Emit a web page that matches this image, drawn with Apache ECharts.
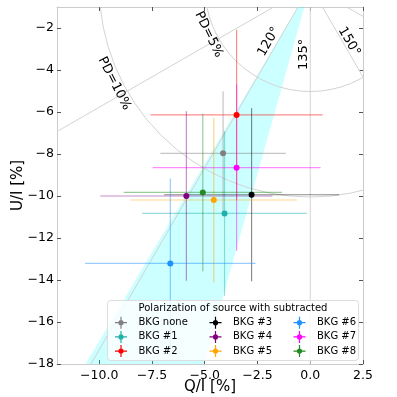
<!DOCTYPE html>
<html>
<head>
<meta charset="utf-8">
<script src="https://cdn.jsdelivr.net/npm/echarts@6.0.0/dist/echarts.min.js"></script>
<style>
  html, body { margin: 0; padding: 0; background: #fff; }
  #chart { width: 397px; height: 397px; }
</style>
</head>
<body>
<div id="chart"></div>
<script>
// Polarization of source with each background subtracted (Q/I, U/I in %)
var bkgNames = ['BKG none', 'BKG #1', 'BKG #2', 'BKG #3', 'BKG #4', 'BKG #5', 'BKG #6', 'BKG #7', 'BKG #8']
var bkgColors = ['grey', '#20b2aa', 'red', 'black', 'purple', 'orange', 'dodgerblue', 'magenta', 'forestgreen']
var qVals = [-4.13, -4.06, -3.49, -2.78, -5.87, -4.57, -6.63, -3.49, -5.09]
var uVals = [-7.97, -10.83, -6.14, -9.94, -10.00, -10.19, -13.21, -8.65, -9.83]
var qErr = [2.97, 3.90, 4.08, 4.15, 4.08, 3.94, 4.04, 3.98, 3.75]
var uErr = [2.96, 3.92, 4.06, 4.12, 4.03, 3.92, 4.04, 3.96, 3.75]

// polar guide grid
var pdRings = [5, 10]                 // PD circles, %
var angleLines = [105, 120, 135, 150, 165] // polarization angle, deg
var wedgePsi = [119.7, 127.2]         // shaded angle range, deg

// axis ticks
var xTicks = [-10, -7.5, -5, -2.5, 0, 2.5]
var yTicks = [-18, -16, -14, -12, -10, -8, -6, -4, -2]

// guide labels: text, Q, U, rotation (deg)
var guideText = ['PD=5%', 'PD=10%', '120°', '135°', '150°']
var guideQ = [-4.81, -9.28, -1.96, -0.30, 1.84]
var guideU = [-2.31, -4.64, -2.65, -3.26, -2.65]
var guideRot = [-64, -63, 60, 90, -60]

var FONT = 'DejaVu Sans'
var GRID_COLOR = '#d3d3d3'

function minus(v) {
  return String(v).replace('-', '\u2212')
}

function renderRing(params, api) {
  var c = api.coord([0, 0])
  var r = api.size([api.value(0), 0])[0]
  return {
    type: 'circle',
    shape: { cx: c[0], cy: c[1], r: r },
    style: { fill: 'none', stroke: GRID_COLOR, lineWidth: 1 }
  }
}

function renderRay(params, api) {
  var t = 2 * api.value(0) * Math.PI / 180
  var p0 = api.coord([0, 0])
  var p1 = api.coord([40 * Math.cos(t), 40 * Math.sin(t)])
  return {
    type: 'line',
    shape: { x1: p0[0], y1: p0[1], x2: p1[0], y2: p1[1] },
    style: { stroke: GRID_COLOR, lineWidth: 1 }
  }
}

function renderWedge(params, api) {
  var a = 2 * api.value(0) * Math.PI / 180
  var b = 2 * api.value(1) * Math.PI / 180
  var pts = [
    api.coord([0, 0]),
    api.coord([40 * Math.cos(a), 40 * Math.sin(a)]),
    api.coord([40 * Math.cos(b), 40 * Math.sin(b)])
  ]
  return {
    type: 'polygon',
    shape: { points: pts },
    style: { fill: 'rgba(0,255,255,0.2)', stroke: 'none' }
  }
}

function renderGuideText(params, api) {
  var i = params.dataIndex
  var p = api.coord([guideQ[i], guideU[i]])
  return {
    type: 'text',
    x: p[0],
    y: p[1],
    rotation: guideRot[i] * Math.PI / 180,
    style: {
      text: guideText[i],
      fill: '#000',
      font: '13px "' + FONT + '"',
      align: 'center',
      verticalAlign: 'middle'
    }
  }
}

function renderErr(params, api) {
  var q = api.value(0), u = api.value(1), qe = api.value(2), ue = api.value(3)
  var a = api.coord([q - qe, u]), b = api.coord([q + qe, u])
  var c = api.coord([q, u - ue]), d = api.coord([q, u + ue])
  var style = { stroke: api.visual('color'), lineWidth: 1.2, opacity: 0.45 }
  return {
    type: 'group',
    children: [
      { type: 'line', shape: { x1: a[0], y1: a[1], x2: b[0], y2: b[1] }, style: style },
      { type: 'line', shape: { x1: c[0], y1: c[1], x2: d[0], y2: d[1] }, style: style }
    ]
  }
}

var series = [
  {
    type: 'custom', name: 'wedge', silent: true, clip: true, z: 1,
    renderItem: renderWedge,
    data: [wedgePsi]
  },
  {
    type: 'custom', name: 'rings', silent: true, clip: true, z: 1,
    renderItem: renderRing,
    data: pdRings.map(function(r) { return [r, 0] })
  },
  {
    type: 'custom', name: 'rays', silent: true, clip: true, z: 1,
    renderItem: renderRay,
    data: angleLines.map(function(a) { return [a, 0] })
  },
  {
    type: 'custom', name: 'guideText', silent: true, clip: true, z: 1,
    renderItem: renderGuideText,
    data: guideQ.map(function(q, i) { return [q, guideU[i]] })
  }
]

bkgNames.forEach(function(name, i) {
  series.push({
    type: 'scatter',
    name: name,
    symbol: 'circle',
    symbolSize: 6,
    z: 3 + i * 0.01,
    itemStyle: { color: bkgColors[i], opacity: 1 },
    data: [[qVals[i], uVals[i]]]
  })
  series.push({
    type: 'custom',
    name: name,
    silent: true,
    clip: true,
    z: 2 + i * 0.01,
    itemStyle: { color: bkgColors[i] },
    renderItem: renderErr,
    encode: { x: 0, y: 1 },
    data: [[qVals[i], uVals[i], qErr[i], uErr[i]]]
  })
})

var legendIcon = 'path://M0,5.4h12v1.2h-12z M5.4,0h1.2v12h-1.2z M3.4,6a2.6,2.6 0 1,1 5.2,0a2.6,2.6 0 1,1 -5.2,0z'

function legendColumn(names, left) {
  return {
    orient: 'vertical',
    left: left,
    top: 316.7,
    padding: 0,
    itemWidth: 25,
    itemHeight: 12,
    itemGap: 2.2,
    z: 20,
    selectedMode: false,
    icon: legendIcon,
    textStyle: { fontFamily: FONT, fontSize: 10, color: '#000' },
    data: names
  }
}

var axisBase = {
  type: 'value',
  splitLine: { show: false },
  axisLine: { show: true, onZero: false, lineStyle: { color: '#cccccc', width: 1 } },
  axisTick: { show: true, inside: true, length: 4, lineStyle: { color: '#555' } }
}

var chart = echarts.init(document.getElementById('chart'), null, { renderer: 'canvas' })
chart.setOption({
  animation: false,
  backgroundColor: '#fff',
  grid: { left: 57, right: 34, top: 7, bottom: 33, containLabel: false, outerBoundsMode: 'none' },
  xAxis: [
    Object.assign({}, axisBase, {
      position: 'bottom', min: -12, max: 2.5,
      axisTick: Object.assign({}, axisBase.axisTick, { customValues: xTicks }),
      axisLabel: {
        customValues: xTicks, margin: 5,
        fontFamily: FONT, fontSize: 12.5, color: '#000',
        formatter: function(v) { return minus(v.toFixed(1)) }
      },
      name: 'Q/I [%]', nameLocation: 'middle', nameGap: 16, nameMoveOverlap: false,
      nameTextStyle: { fontFamily: FONT, fontSize: 15, color: '#000' }
    }),
    Object.assign({}, axisBase, {
      position: 'top', min: -12, max: 2.5,
      axisTick: Object.assign({}, axisBase.axisTick, { customValues: xTicks }),
      axisLabel: { show: false }
    })
  ],
  yAxis: [
    Object.assign({}, axisBase, {
      position: 'left', min: -18, max: -1,
      axisTick: Object.assign({}, axisBase.axisTick, { customValues: yTicks }),
      axisLabel: {
        customValues: yTicks, margin: 3,
        fontFamily: FONT, fontSize: 12.5, color: '#000',
        formatter: function(v) { return minus(v) }
      },
      name: 'U/I [%]', nameLocation: 'middle', nameGap: 31, nameMoveOverlap: false,
      nameTextStyle: { fontFamily: FONT, fontSize: 15, color: '#000' }
    }),
    Object.assign({}, axisBase, {
      position: 'right', min: -18, max: -1,
      axisTick: Object.assign({}, axisBase.axisTick, { customValues: yTicks }),
      axisLabel: { show: false }
    })
  ],
  legend: [
    legendColumn([bkgNames[0], bkgNames[1], bkgNames[2]], 115),
    legendColumn([bkgNames[3], bkgNames[4], bkgNames[5]], 209.5),
    legendColumn([bkgNames[6], bkgNames[7], bkgNames[8]], 293.5)
  ],
  graphic: [
    {
      type: 'rect', z: 15, silent: true,
      shape: { x: 107.5, y: 300.5, width: 251, height: 60, r: 3 },
      style: { fill: 'rgba(255,255,255,0.8)', stroke: '#dddddd', lineWidth: 1 }
    },
    {
      type: 'text', z: 16, silent: true,
      x: 233, y: 308.5,
      style: {
        text: 'Polarization of source with subtracted',
        font: '10px "' + FONT + '"', fill: '#000',
        align: 'center', verticalAlign: 'middle'
      }
    }
  ],
  series: series
})
</script>
</body>
</html>
